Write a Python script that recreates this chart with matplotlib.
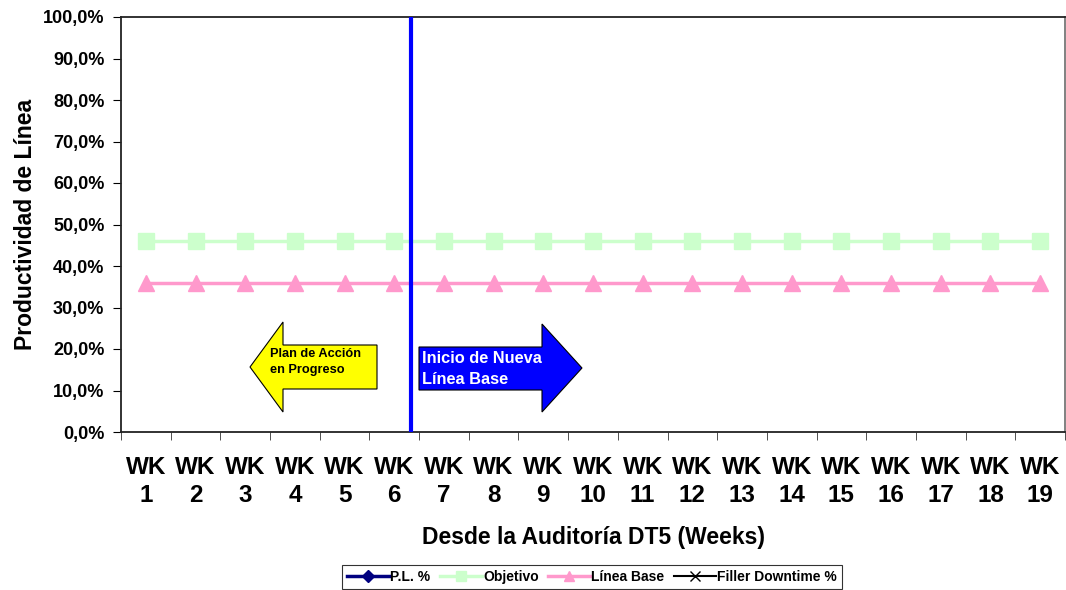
import matplotlib.pyplot as plt
from matplotlib.patches import Polygon
from matplotlib.lines import Line2D

plt.rcParams['font.family'] = ['Liberation Sans', 'DejaVu Sans']
plt.rcParams['font.weight'] = 'bold'

weeks = [f"WK\n{i}" for i in range(1, 20)]
objetivo = [0.46] * 19
linea_base = [0.358] * 19
inicio_semana = 6.34

fig = plt.figure(figsize=(10.66, 5.90), dpi=100)
ax = fig.add_axes([121 / 1066, 1 - 432 / 590, (1065 - 121) / 1066, (432 - 17) / 590])

x = list(range(1, 20))
ax.plot(x, objetivo, color='#CCFFCC', lw=2.5, marker='s', ms=11, label='Objetivo', zorder=3)
ax.plot(x, linea_base, color='#FF99CC', lw=2.5, marker='^', ms=12, label='Línea Base', zorder=3)
ax.plot([inicio_semana, inicio_semana], [0.005, 0.995], color='#0000FF', lw=3, zorder=4)

ax.set_xlim(0.5, 19.5)
ax.set_ylim(0, 1)
ax.set_yticks([i / 10 for i in range(11)])
ax.set_yticklabels([f"{i * 10},0%" for i in range(11)], fontsize=13, fontweight='bold')
ax.set_xticks(x)
ax.set_xticklabels(weeks, fontsize=17.5, fontweight='bold', linespacing=1.28)
ax.set_xticks([i + 0.5 for i in range(0, 20)], minor=True)
ax.tick_params(axis='x', which='major', length=0, pad=17)
ax.tick_params(axis='x', which='minor', length=6, direction='out', color='#333333')
ax.tick_params(axis='y', length=6, direction='out', pad=6)

for s in ['top', 'left', 'bottom']:
    ax.spines[s].set_color('#222222')
    ax.spines[s].set_linewidth(1.3)
ax.spines['right'].set_color('#777777')
ax.spines['right'].set_linewidth(1.3)

ax.set_ylabel('Productividad de Línea', fontsize=16.5, fontweight='bold', labelpad=4)
ax.set_xlabel('Desde la Auditoría DT5 (Weeks)', fontsize=16.5, fontweight='bold', labelpad=14)


def px(xp, yp):
    return (xp / 1066, 1 - yp / 590)


# flechas de anotación
yellow = [(250, 367), (283, 322), (283, 345), (377, 345), (377, 389), (283, 389), (283, 412)]
fig.patches.append(Polygon([px(*p) for p in yellow], closed=True, transform=fig.transFigure,
                           facecolor='#FFFF00', edgecolor='black', lw=0.8, zorder=5))
blue = [(419, 347), (542, 347), (542, 324), (582, 368), (542, 412), (542, 390), (419, 390)]
fig.patches.append(Polygon([px(*p) for p in blue], closed=True, transform=fig.transFigure,
                           facecolor='#0000FF', edgecolor='black', lw=0.8, zorder=5))
fig.text(*px(270, 362), 'Plan de Acción\nen Progreso', fontsize=9.2, fontweight='bold',
         va='center', ha='left', linespacing=1.5, zorder=6)
fig.text(*px(422, 369), 'Inicio de Nueva\nLínea Base', fontsize=11.8, fontweight='bold',
         color='white', va='center', ha='left', linespacing=1.45, zorder=6)

handles = [
    Line2D([], [], color='#000080', lw=2.5, marker='D', ms=6),
    Line2D([], [], color='#CCFFCC', lw=2.5, marker='s', ms=7),
    Line2D([], [], color='#FF99CC', lw=2.5, marker='^', ms=7),
    Line2D([], [], color='black', lw=1.5, marker='x', ms=7),
]
labels = ['P.L. %', 'Objetivo', 'Línea Base', 'Filler Downtime %']
leg = fig.legend(handles, labels, loc='upper center', bbox_to_anchor=px(592, 565), ncol=4,
                 fontsize=10, frameon=True, fancybox=False, edgecolor='black',
                 handlelength=3.0, handletextpad=0.1, columnspacing=0.7,
                 borderpad=0.35, borderaxespad=0)
leg.get_frame().set_linewidth(0.8)
for t in leg.get_texts():
    t.set_fontweight('bold')

fig.savefig('out.png', dpi=100)
